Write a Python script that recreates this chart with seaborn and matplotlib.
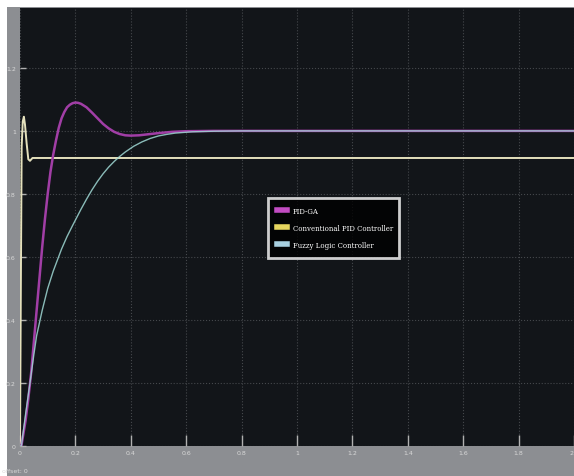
import numpy as np
import pandas as pd
import matplotlib
matplotlib.use("Agg")
import matplotlib.pyplot as plt
from matplotlib.lines import Line2D
from matplotlib.patches import Rectangle
import seaborn as sns

# step responses
t_ga = [0, 0.005, 0.02, 0.03, 0.04, 0.05, 0.06, 0.07, 0.08, 0.09, 0.10, 0.11, 0.12,
        0.13, 0.14, 0.15, 0.16, 0.17, 0.18, 0.19, 0.20, 0.21, 0.22, 0.24, 0.26,
        0.28, 0.30, 0.32, 0.34, 0.36, 0.38, 0.40, 0.43, 0.46, 0.50, 0.55, 0.60,
        0.70, 2.0]
y_ga = [0, 0.0, 0.08, 0.15, 0.23, 0.33, 0.43, 0.53, 0.63, 0.72, 0.80, 0.87, 0.925,
        0.97, 1.01, 1.04, 1.06, 1.075, 1.083, 1.088, 1.090, 1.089, 1.086, 1.075,
        1.058, 1.040, 1.022, 1.008, 0.997, 0.990, 0.986, 0.985, 0.986, 0.989,
        0.993, 0.997, 0.999, 1.0, 1.0]

t_pid = [0, 0.003, 0.006, 0.010, 0.014, 0.018, 0.024, 0.030, 0.036, 0.045, 2.0]
y_pid = [0, 0.5, 0.95, 1.03, 1.045, 1.02, 0.96, 0.91, 0.905, 0.914, 0.914]

t_fz = [0, 0.005, 0.02, 0.036, 0.05, 0.06, 0.08, 0.10, 0.12, 0.135, 0.15, 0.17,
        0.19, 0.22, 0.24, 0.26, 0.28, 0.30, 0.32, 0.34, 0.36, 0.38, 0.41, 0.44,
        0.47, 0.50, 0.53, 0.56, 0.62, 0.70, 0.80, 2.0]
y_fz = [0, 0.0, 0.10, 0.20, 0.29, 0.35, 0.43, 0.50, 0.555, 0.59, 0.625, 0.665,
        0.70, 0.751, 0.783, 0.813, 0.840, 0.864, 0.885, 0.903, 0.919, 0.933, 0.951,
        0.965, 0.976, 0.984, 0.989, 0.993, 0.997, 0.999, 1.0, 1.0]

labels = ["PID-GA", "Conventional PID Controller", "Fuzzy Logic Controller"]
x_ticks = [0, 0.2, 0.4, 0.6, 0.8, 1, 1.2, 1.4, 1.6, 1.8, 2]
y_ticks = [0, 0.2, 0.4, 0.6, 0.8, 1, 1.2]

W, H = 574, 477
fig = plt.figure(figsize=(W / 100, H / 100), dpi=100)
fig.patch.set_facecolor("white")
# grey scope frame, behind the axes
fig.patches.append(Rectangle((7 / W, 0), 1, (H - 8) / H, transform=fig.transFigure,
                             facecolor="#8c8e92", edgecolor="none", zorder=-1))

ax = fig.add_axes([20 / W, 30 / H, (W - 20) / W, (447 - 9) / H])
ax.set_zorder(1)
ax.set_facecolor("#121519")

df_ga = pd.DataFrame({"t": t_ga, "y": y_ga})
df_pid = pd.DataFrame({"t": t_pid, "y": y_pid})
df_fz = pd.DataFrame({"t": t_fz, "y": y_fz})

sns.lineplot(data=df_pid, x="t", y="y", ax=ax, color="#e4e0bc", lw=1.4,
             sort=False, estimator=None)
sns.lineplot(data=df_ga, x="t", y="y", ax=ax, color="#a13ea6", lw=1.8,
             sort=False, estimator=None)
sns.lineplot(data=df_fz, x="t", y="y", ax=ax, color="#9fd8d4", lw=1.0,
             sort=False, estimator=None, alpha=0.85)

ax.set_xlim(0, 2)
ax.set_ylim(0, 1.39)
ax.set_xticks(x_ticks)
ax.set_yticks(y_ticks)
ax.set_xticklabels([f"{v:g}" for v in x_ticks])
ax.set_yticklabels([f"{v:g}" for v in y_ticks])
ax.tick_params(axis="x", direction="in", length=8, width=1, color="#b0b0b0",
               labelsize=4.5, labelcolor="#d8d8d8", pad=3)
ax.tick_params(axis="y", direction="in", length=4, width=1, color="#b0b0b0",
               labelsize=4.5, labelcolor="#d8d8d8", pad=3)
ax.get_xticklabels()[-1].set_ha("right")
ax.grid(True, color="#45484c", linestyle=":", lw=0.8)
ax.set_xlabel("")
ax.set_ylabel("")
for s in ax.spines.values():
    s.set_visible(False)

handles = [Line2D([], [], color=c, lw=4) for c in ["#c24cc2", "#e6d65e", "#a8d0e0"]]
leg = ax.legend(handles, labels, loc="upper left", bbox_to_anchor=(0.442, 0.427, 0.248, 0.148),
                mode="expand", frameon=True, fancybox=False, facecolor="black",
                edgecolor="white", handlelength=1.4, labelspacing=1.3,
                prop={"family": "DejaVu Serif", "size": 5}, borderpad=1.3)
leg.get_frame().set_linewidth(2)
for txt in leg.get_texts():
    txt.set_color("white")

fig.text(2 / W, 4 / H, "offset: 0", fontsize=4.5, color="#d8d8d8")

fig.savefig("out.png", dpi=100)
